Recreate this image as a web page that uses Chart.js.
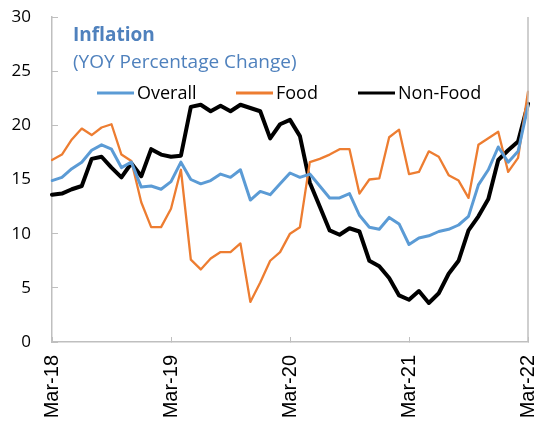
<!DOCTYPE html>
<html>
<head>
<meta charset="utf-8">
<script src="https://cdn.jsdelivr.net/npm/chart.js@4"></script>
<style>
  html, body { margin: 0; padding: 0; background: #fff; }
  #wrap { width: 539px; height: 424px; position: relative; }
</style>
</head>
<body>
<div id="wrap"><canvas id="inflationChart"></canvas></div>
<script>
// Data
const months = [
    "Mar-18","Apr-18","May-18","Jun-18","Jul-18","Aug-18","Sep-18","Oct-18","Nov-18","Dec-18","Jan-19","Feb-19",
    "Mar-19","Apr-19","May-19","Jun-19","Jul-19","Aug-19","Sep-19","Oct-19","Nov-19","Dec-19","Jan-20","Feb-20",
    "Mar-20","Apr-20","May-20","Jun-20","Jul-20","Aug-20","Sep-20","Oct-20","Nov-20","Dec-20","Jan-21","Feb-21",
    "Mar-21","Apr-21","May-21","Jun-21","Jul-21","Aug-21","Sep-21","Oct-21","Nov-21","Dec-21","Jan-22","Feb-22",
    "Mar-22"
];
const shownTicks = ["Mar-18", "Mar-19", "Mar-20", "Mar-21", "Mar-22"];

const overall = [14.9, 15.2, 16.0, 16.6, 17.7, 18.2, 17.8, 16.1, 16.6, 14.3, 14.4, 14.1,
    14.8, 16.6, 15.0, 14.6, 14.9, 15.5, 15.2, 15.9, 13.1, 13.9, 13.6, 14.6,
    15.6, 15.2, 15.5, 14.4, 13.3, 13.3, 13.7, 11.7, 10.6, 10.4, 11.5, 10.9,
    9.0, 9.6, 9.8, 10.2, 10.4, 10.8, 11.6, 14.5, 15.9, 18.0, 16.6, 17.6,
    21.8];
const food = [16.8, 17.3, 18.7, 19.7, 19.1, 19.8, 20.1, 17.3, 16.7, 12.9, 10.6, 10.6,
    12.3, 15.9, 7.6, 6.7, 7.7, 8.3, 8.3, 9.1, 3.7, 5.5, 7.5, 8.3,
    10.0, 10.6, 16.6, 16.9, 17.3, 17.8, 17.8, 13.7, 15.0, 15.1, 18.9, 19.6,
    15.5, 15.7, 17.6, 17.1, 15.4, 14.9, 13.3, 18.2, 18.8, 19.4, 15.7, 17.0,
    23.1];
const nonFood = [13.6, 13.7, 14.1, 14.4, 16.9, 17.1, 16.1, 15.2, 16.5, 15.3, 17.8, 17.3,
    17.1, 17.2, 21.7, 21.9, 21.3, 21.8, 21.3, 21.9, 21.6, 21.3, 18.8, 20.1,
    20.5, 19.0, 14.7, 12.5, 10.3, 9.9, 10.5, 10.2, 7.5, 7.0, 5.9, 4.3,
    3.9, 4.7, 3.6, 4.5, 6.3, 7.5, 10.3, 11.6, 13.2, 16.8, 17.7, 18.5,
    22.0];
const yTicks = [0, 5, 10, 15, 20, 25, 30];

const titleText = "Inflation";
const subtitleText = "(YOY Percentage Change)";
const axisGray = "#bfbfbf";
const titleBlue = "#4f81bd";

// Title, subtitle and legend sit inside the plot area
const insideLabels = {
    id: 'insideLabels',
    afterDatasetsDraw(chart) {
        const ctx = chart.ctx;
        const area = chart.chartArea;
        ctx.save();
        ctx.fillStyle = titleBlue;
        ctx.textAlign = 'left';
        ctx.textBaseline = 'alphabetic';
        ctx.font = 'bold 19px "Open Sans"';
        ctx.fillText(titleText, area.left + 21, area.top + 24);
        ctx.font = '19px "Open Sans"';
        ctx.fillText(subtitleText, area.left + 21, area.top + 51);

        const legendX = [45, 184, 306];
        const legendY = area.top + 76;
        chart.data.datasets.forEach((ds, i) => {
            const x = area.left + legendX[i];
            ctx.strokeStyle = ds.borderColor;
            ctx.lineWidth = 3;
            ctx.beginPath();
            ctx.moveTo(x, legendY);
            ctx.lineTo(x + 37, legendY);
            ctx.stroke();
            ctx.fillStyle = '#000';
            ctx.font = '18px "Open Sans"';
            ctx.textBaseline = 'middle';
            ctx.fillText(ds.label, x + 40, legendY + 1);
        });

        // right frame line
        ctx.strokeStyle = axisGray;
        ctx.lineWidth = 1.5;
        ctx.beginPath();
        ctx.moveTo(area.right, area.top);
        ctx.lineTo(area.right, area.bottom);
        ctx.stroke();
        ctx.restore();
    }
};

document.addEventListener('DOMContentLoaded', function() {
    const ctx = document.getElementById('inflationChart').getContext('2d');

    new Chart(ctx, {
        type: 'line',
        data: {
            labels: months,
            datasets: [
                { label: 'Overall', data: overall, borderColor: '#5b9bd5', borderWidth: 3 },
                { label: 'Food', data: food, borderColor: '#ed7d31', borderWidth: 2.3 },
                { label: 'Non-Food', data: nonFood, borderColor: '#000000', borderWidth: 4 }
            ]
        },
        options: {
            responsive: true,
            maintainAspectRatio: false,
            animation: false,
            devicePixelRatio: 1,
            layout: { padding: { top: 17, right: 11, left: 0, bottom: 0 } },
            elements: {
                point: { radius: 0 },
                line: { tension: 0, borderCapStyle: 'round', borderJoinStyle: 'round' }
            },
            scales: {
                x: {
                    offset: false,
                    border: { color: axisGray, width: 1.5 },
                    grid: { drawOnChartArea: false, drawTicks: true, tickLength: -5, color: axisGray, lineWidth: 1 },
                    ticks: {
                        autoSkip: false,
                        maxRotation: 90,
                        minRotation: 90,
                        padding: 18,
                        color: '#000',
                        font: { family: '"Liberation Sans", Arial, sans-serif', size: 20 },
                        callback: function(value) {
                            const lab = this.getLabelForValue(value);
                            return shownTicks.includes(lab) ? lab : null;
                        }
                    },
                    afterFit(scale) {
                        scale.height = 82;
                        scale.paddingLeft = 0;
                        scale.paddingRight = 0;
                    }
                },
                y: {
                    min: 0,
                    max: 30,
                    border: { color: axisGray, width: 1.5 },
                    grid: { drawOnChartArea: false, drawTicks: true, tickLength: -6, color: axisGray, lineWidth: 1 },
                    afterBuildTicks(scale) { scale.ticks = yTicks.map(v => ({ value: v })); },
                    ticks: {
                        padding: 27,
                        color: '#000',
                        font: { family: '"Open Sans", sans-serif', size: 17 }
                    },
                    afterFit(scale) {
                        scale.width = 52;
                        scale.paddingTop = 0;
                        scale.paddingBottom = 0;
                    }
                }
            },
            plugins: {
                legend: { display: false },
                title: { display: false },
                tooltip: { enabled: false }
            }
        },
        plugins: [insideLabels]
    });
});
</script>
</body>
</html>
